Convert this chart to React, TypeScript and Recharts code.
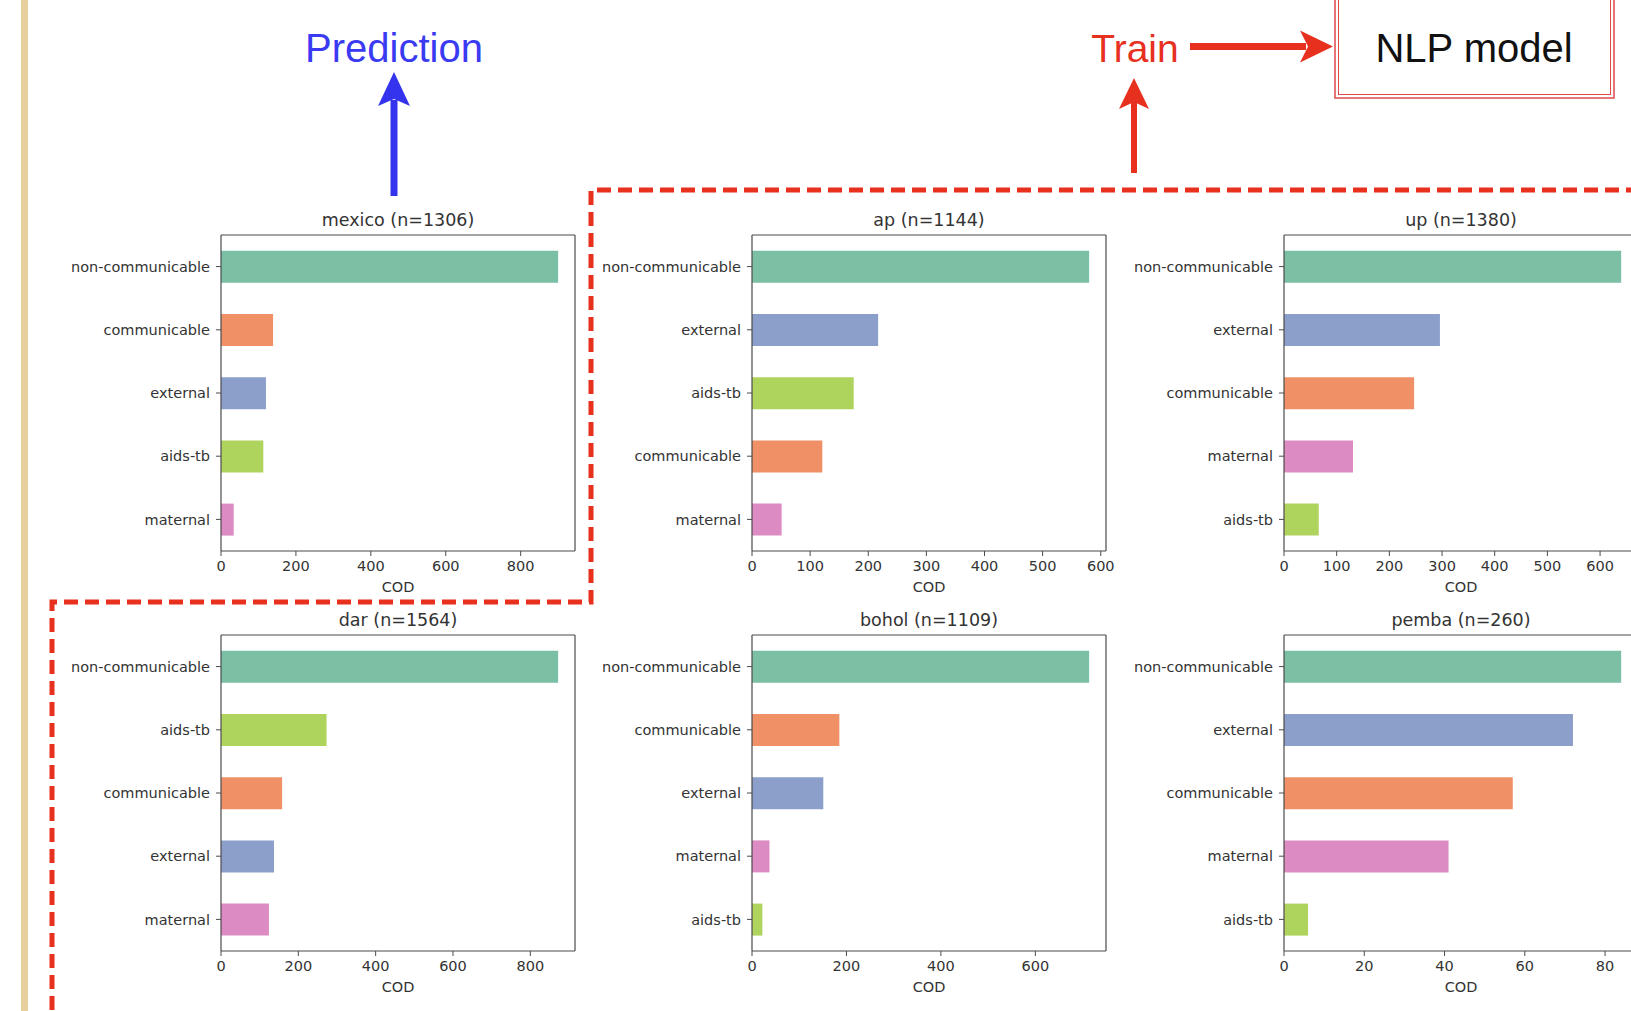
import { BarChart, Bar, XAxis, YAxis, Cell, Label, ReferenceLine } from "recharts";

// cause-of-death counts per site
const mexicoCauses = ["non-communicable", "communicable", "external", "aids-tb", "maternal"];
const mexicoCounts = [900, 139, 120, 113, 34];
const mexicoTicks = [0, 200, 400, 600, 800];

const apCauses = ["non-communicable", "external", "aids-tb", "communicable", "maternal"];
const apCounts = [580, 217, 175, 121, 51];
const apTicks = [0, 100, 200, 300, 400, 500, 600];

const upCauses = ["non-communicable", "external", "communicable", "maternal", "aids-tb"];
const upCounts = [640, 296, 247, 131, 66];
const upTicks = [0, 100, 200, 300, 400, 500, 600];

const darCauses = ["non-communicable", "aids-tb", "communicable", "external", "maternal"];
const darCounts = [872, 273, 158, 137, 124];
const darTicks = [0, 200, 400, 600, 800];

const boholCauses = ["non-communicable", "communicable", "external", "maternal", "aids-tb"];
const boholCounts = [714, 185, 151, 37, 22];
const boholTicks = [0, 200, 400, 600];

const pembaCauses = ["non-communicable", "external", "communicable", "maternal", "aids-tb"];
const pembaCounts = [84, 72, 57, 41, 6];
const pembaTicks = [0, 20, 40, 60, 80];

// Set2-ish, a bit washed out like the screenshot
const COLORS: Record<string, string> = {
  "non-communicable": "#7bbfa5",
  communicable: "#ef9066",
  external: "#8b9fca",
  maternal: "#dd8cc3",
  "aids-tb": "#afd45e",
};

const Y_W = 180;
const PLOT_W = 354;
const PLOT_H = 316;
const TOP_M = 40;
const X_H = 52;
const RIGHT_M = 24;

const AXIS = "#4a4a4a";
const TEXT = "#333";
const MPL_FONT = "DejaVu Sans";
const SLIDE_FONT = "Liberation Sans";
const RED = "#e8301f";

interface PanelProps {
  title: string;
  causes: string[];
  counts: number[];
  ticks: number[];
  left: number;
  top: number;
}

function CodPanel({ title, causes, counts, ticks, left, top }: PanelProps) {
  const data = causes.map((cause, i) => ({ cause, count: counts[i] }));
  const xMax = Math.max(...counts) * 1.05; // matplotlib's 5% margin

  return (
    <div style={{ position: "absolute", left: left - Y_W, top: top - TOP_M }}>
      <BarChart
        width={Y_W + PLOT_W + RIGHT_M}
        height={TOP_M + PLOT_H + X_H}
        data={data}
        layout="vertical"
        margin={{ top: TOP_M, right: RIGHT_M, bottom: 0, left: 0 }}
        barCategoryGap="25%"
      >
        <XAxis
          type="number"
          dataKey="count"
          domain={[0, xMax]}
          allowDataOverflow
          ticks={ticks}
          interval={0}
          height={X_H}
          tickSize={5}
          tickMargin={5}
          axisLine={{ stroke: AXIS, strokeWidth: 1.2 }}
          tickLine={{ stroke: AXIS }}
          tick={{ fill: TEXT, fontSize: 14.5, fontFamily: MPL_FONT }}
        >
          <Label
            value="COD"
            position="insideBottom"
            offset={11}
            style={{ fill: TEXT, fontSize: 14.5, fontFamily: MPL_FONT }}
          />
        </XAxis>
        <YAxis
          type="category"
          dataKey="cause"
          width={Y_W}
          interval={0}
          tickSize={5}
          tickMargin={6}
          axisLine={{ stroke: AXIS, strokeWidth: 1.2 }}
          tickLine={{ stroke: AXIS }}
          tick={{ fill: TEXT, fontSize: 14.5, fontFamily: MPL_FONT }}
        />
        <Bar dataKey="count" isAnimationActive={false}>
          {data.map((d) => (
            <Cell key={d.cause} fill={COLORS[d.cause]} />
          ))}
        </Bar>
        {/* top and right spines of the matplotlib box */}
        <ReferenceLine y={causes[0]} position="start" stroke={AXIS} strokeWidth={1.2} />
        <ReferenceLine x={xMax} stroke={AXIS} strokeWidth={1.2} />
      </BarChart>
      <div
        style={{
          position: "absolute",
          left: Y_W,
          width: PLOT_W,
          top: TOP_M - 25,
          lineHeight: "20px",
          textAlign: "center",
          fontFamily: MPL_FONT,
          fontSize: 17.5,
          color: TEXT,
          whiteSpace: "nowrap",
        }}
      >
        {title}
      </div>
    </div>
  );
}

function Annotations() {
  return (
    <svg width={1631} height={1011} style={{ position: "absolute", left: 0, top: 0 }}>
      <rect x={21} y={0} width={7} height={1011} fill="#e6d09e" />

      {/* prediction arrow */}
      <text x={394} y={62} textAnchor="middle" fontFamily={SLIDE_FONT} fontSize={40} fill="#3a3af2">
        Prediction
      </text>
      <line x1={394} y1={196} x2={394} y2={100} stroke="#3434ee" strokeWidth={7} />
      <polygon points="394,72 410,106 394,99 378,106" fill="#3434ee" />

      {/* train arrows */}
      <text x={1135} y={62} textAnchor="middle" fontFamily={SLIDE_FONT} fontSize={39} fill={RED}>
        Train
      </text>
      <line x1={1134} y1={173} x2={1134} y2={102} stroke={RED} strokeWidth={6} />
      <polygon points="1134,78 1149,109 1134,102 1119,109" fill={RED} />
      <line x1={1190} y1={46.5} x2={1306} y2={46.5} stroke={RED} strokeWidth={7} />
      <polygon points="1333,46.5 1300,30.5 1308,46.5 1300,62.5" fill={RED} />

      {/* NLP model box */}
      <rect x={1335} y={-3} width={279} height={101} fill="none" stroke="#e04a4a" strokeWidth={1.5} />
      <rect x={1338.5} y={-3} width={272} height={97.5} fill="none" stroke="#e04a4a" strokeWidth={1} />
      <text x={1474} y={62} textAnchor="middle" fontFamily={SLIDE_FONT} fontSize={40} fill="#111">
        NLP model
      </text>

      {/* training-set outline */}
      <polyline
        points="1640,190 591,190 591,602 52,602 52,1020"
        fill="none"
        stroke={RED}
        strokeWidth={5}
        strokeDasharray="14 7"
      />
    </svg>
  );
}

export default function App() {
  return (
    <div
      style={{
        position: "absolute",
        left: 0,
        top: 0,
        width: 1631,
        height: 1011,
        overflow: "hidden",
        background: "#fff",
      }}
    >
      <Annotations />
      <CodPanel title="mexico (n=1306)" causes={mexicoCauses} counts={mexicoCounts} ticks={mexicoTicks} left={221} top={235} />
      <CodPanel title="ap (n=1144)" causes={apCauses} counts={apCounts} ticks={apTicks} left={752} top={235} />
      <CodPanel title="up (n=1380)" causes={upCauses} counts={upCounts} ticks={upTicks} left={1284} top={235} />
      <CodPanel title="dar (n=1564)" causes={darCauses} counts={darCounts} ticks={darTicks} left={221} top={635} />
      <CodPanel title="bohol (n=1109)" causes={boholCauses} counts={boholCounts} ticks={boholTicks} left={752} top={635} />
      <CodPanel title="pemba (n=260)" causes={pembaCauses} counts={pembaCounts} ticks={pembaTicks} left={1284} top={635} />
    </div>
  );
}
